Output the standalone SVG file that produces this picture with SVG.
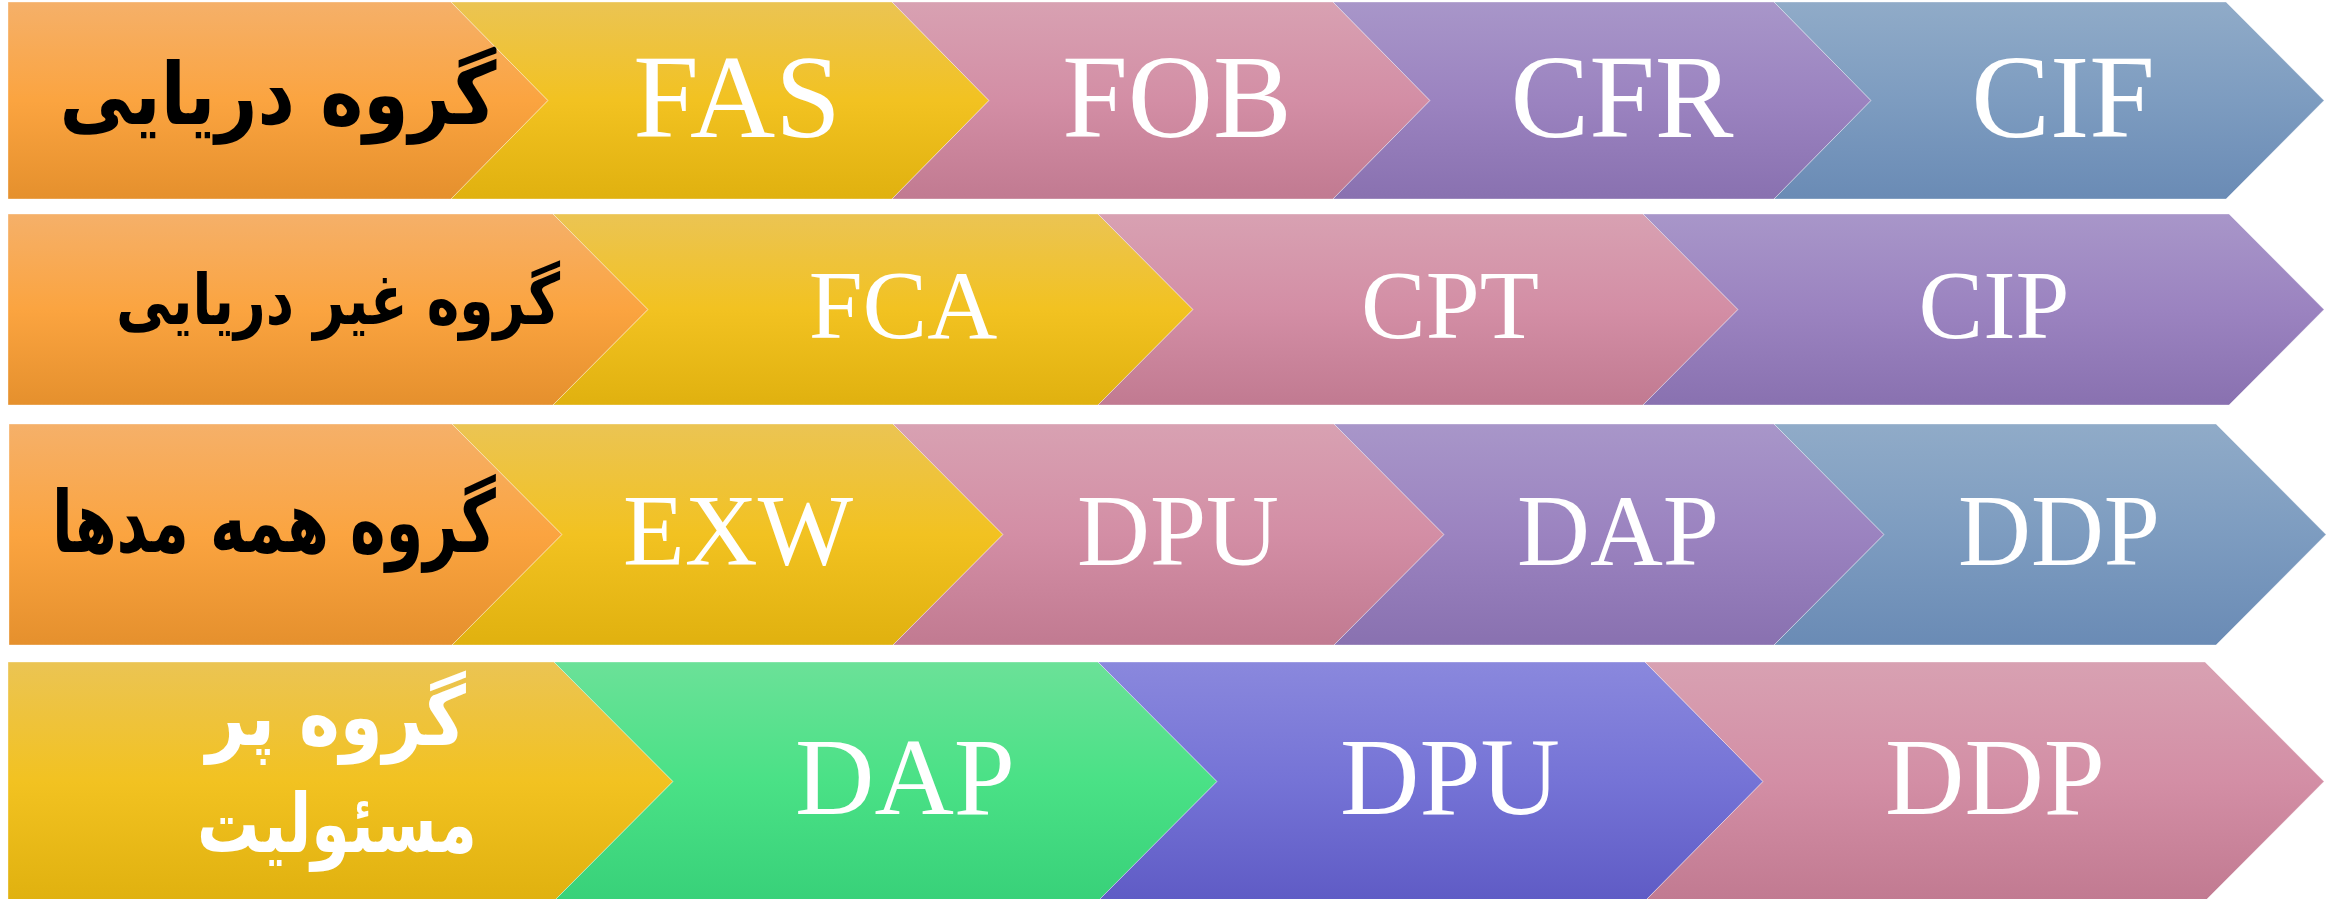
<svg xmlns="http://www.w3.org/2000/svg" width="2338" height="899" viewBox="0 0 2338 899">
<style>
.lat{font-family:"Liberation Serif","Times New Roman",serif;fill:#ffffff;text-anchor:middle}
.ar{font-family:"DejaVu Sans","Noto Sans",sans-serif;font-weight:bold;text-anchor:middle;direction:rtl}
.blk{fill:#000000}
.wht{fill:#ffffff}
.sh{stroke:#ffffff;stroke-opacity:0.35;stroke-width:1}
.or{fill:url(#gOr)}
.ye{fill:url(#gYe)}
.pk{fill:url(#gPk)}
.pu{fill:url(#gPu)}
.bl{fill:url(#gBl)}
.gr{fill:url(#gGr)}
.vi{fill:url(#gVi)}
</style>
<defs>
<linearGradient id="gOr" x1="0" y1="0" x2="0" y2="1"><stop offset="0" stop-color="#F5B069"/><stop offset="0.5" stop-color="#FBA440"/><stop offset="1" stop-color="#E5902D"/></linearGradient>
<linearGradient id="gYe" x1="0" y1="0" x2="0" y2="1"><stop offset="0" stop-color="#EBC453"/><stop offset="0.5" stop-color="#F2C221"/><stop offset="1" stop-color="#E0B10F"/></linearGradient>
<linearGradient id="gPk" x1="0" y1="0" x2="0" y2="1"><stop offset="0" stop-color="#D8A1B2"/><stop offset="0.5" stop-color="#D38EA5"/><stop offset="1" stop-color="#C17A91"/></linearGradient>
<linearGradient id="gPu" x1="0" y1="0" x2="0" y2="1"><stop offset="0" stop-color="#A896C9"/><stop offset="0.5" stop-color="#9B83C0"/><stop offset="1" stop-color="#8971B0"/></linearGradient>
<linearGradient id="gBl" x1="0" y1="0" x2="0" y2="1"><stop offset="0" stop-color="#90ABC8"/><stop offset="0.5" stop-color="#7D9CC0"/><stop offset="1" stop-color="#6A8BB5"/></linearGradient>
<linearGradient id="gGr" x1="0" y1="0" x2="0" y2="1"><stop offset="0" stop-color="#6BE198"/><stop offset="0.5" stop-color="#4AE186"/><stop offset="1" stop-color="#38D179"/></linearGradient>
<linearGradient id="gVi" x1="0" y1="0" x2="0" y2="1"><stop offset="0" stop-color="#8A88DD"/><stop offset="0.5" stop-color="#7573D6"/><stop offset="1" stop-color="#5F5BC5"/></linearGradient>
</defs>

<!-- Row 1: y 2..199, depth 97 -->
<g id="r1-head"><polygon class="or sh" points="8,2 451,2 548,100.5 451,199 8,199"/><text class="ar blk" x="278" y="124" font-size="86" textLength="437" lengthAdjust="spacingAndGlyphs">گروه دریایی</text></g>
<g id="r1-fas"><polygon class="ye sh" points="451,2 892,2 989,100.5 892,199 451,199 548,100.5"/><text class="lat" x="737" y="137" font-size="118">FAS</text></g>
<g id="r1-fob"><polygon class="pk sh" points="892,2 1333,2 1430,100.5 1333,199 892,199 989,100.5"/><text class="lat" x="1177" y="137" font-size="118">FOB</text></g>
<g id="r1-cfr"><polygon class="pu sh" points="1333,2 1774,2 1871,100.5 1774,199 1333,199 1430,100.5"/><text class="lat" x="1622" y="137" font-size="118">CFR</text></g>
<g id="r1-cif"><polygon class="bl sh" points="1774,2 2226,2 2324,100.5 2226,199 1774,199 1871,100.5"/><text class="lat" x="2063" y="137" font-size="118">CIF</text></g>

<!-- Row 2: y 214..405, depth 95 -->
<g id="r2-head"><polygon class="or sh" points="8,214 553,214 648,309.5 553,405 8,405"/><text class="ar blk" x="338" y="324" font-size="70" textLength="444" lengthAdjust="spacingAndGlyphs">گروه غیر دریایی</text></g>
<g id="r2-fca"><polygon class="ye sh" points="553,214 1098,214 1193,309.5 1098,405 553,405 648,309.5"/><text class="lat" x="903" y="338" font-size="97">FCA</text></g>
<g id="r2-cpt"><polygon class="pk sh" points="1098,214 1643,214 1738,309.5 1643,405 1098,405 1193,309.5"/><text class="lat" x="1450" y="338" font-size="97">CPT</text></g>
<g id="r2-cip"><polygon class="pu sh" points="1643,214 2229,214 2324,309.5 2229,405 1643,405 1738,309.5"/><text class="lat" x="1994" y="338" font-size="97">CIP</text></g>

<!-- Row 3: y 424..645, depth 110 -->
<g id="r3-head"><polygon class="or sh" points="9,424 452,424 562,534.5 452,645 9,645"/><text class="ar blk" x="274" y="552" font-size="86" textLength="444" lengthAdjust="spacingAndGlyphs">گروه همه مدها</text></g>
<g id="r3-exw"><polygon class="ye sh" points="452,424 893,424 1003,534.5 893,645 452,645 562,534.5"/><text class="lat" x="738" y="565" font-size="101">EXW</text></g>
<g id="r3-dpu"><polygon class="pk sh" points="893,424 1334,424 1444,534.5 1334,645 893,645 1003,534.5"/><text class="lat" x="1178" y="565" font-size="101">DPU</text></g>
<g id="r3-dap"><polygon class="pu sh" points="1334,424 1774,424 1884,534.5 1774,645 1334,645 1444,534.5"/><text class="lat" x="1618" y="565" font-size="101">DAP</text></g>
<g id="r3-ddp"><polygon class="bl sh" points="1774,424 2216,424 2326,534.5 2216,645 1774,645 1884,534.5"/><text class="lat" x="2059" y="565" font-size="101">DDP</text></g>

<!-- Row 4: y 662..901, depth 119 -->
<g id="r4-head"><polygon class="ye sh" points="8,662 554,662 673,781.5 554,901 8,901"/><text class="ar wht" x="336" y="745" font-size="82" textLength="260" lengthAdjust="spacingAndGlyphs">گروه پر</text><text class="ar wht" x="337" y="852" font-size="82" textLength="280" lengthAdjust="spacingAndGlyphs">مسئولیت</text></g>
<g id="r4-dap"><polygon class="gr sh" points="554,662 1098,662 1217,781.5 1098,901 554,901 673,781.5"/><text class="lat" x="905" y="814" font-size="110">DAP</text></g>
<g id="r4-dpu"><polygon class="vi sh" points="1098,662 1645,662 1763,781.5 1645,901 1098,901 1217,781.5"/><text class="lat" x="1450" y="814" font-size="110">DPU</text></g>
<g id="r4-ddp"><polygon class="pk sh" points="1645,662 2205,662 2324,781.5 2205,901 1645,901 1763,781.5"/><text class="lat" x="1995" y="814" font-size="110">DDP</text></g>

<g id="connectors"></g>
</svg>
